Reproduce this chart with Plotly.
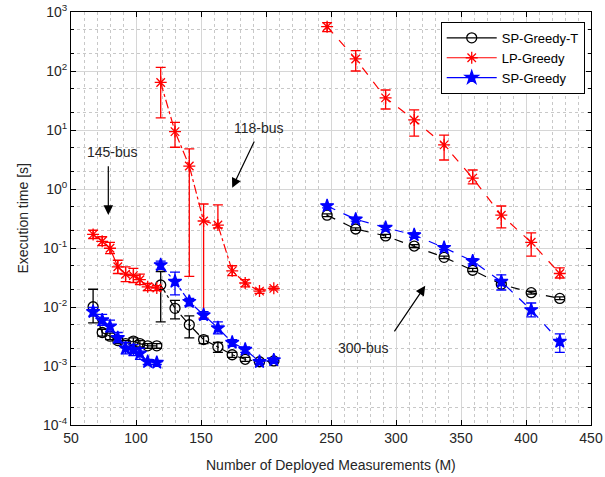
import numpy as np
import plotly.graph_objects as go

# ---------------- data ----------------
m_145 = [67, 74, 80, 86, 92, 98, 103, 109, 116]
m_118 = [119, 130, 141, 152, 163, 174, 184, 195, 206]
m_300 = [247, 269, 292, 314, 337, 359, 381, 404, 426]

# SP-Greedy-T
spt_145 = [0.0101, 0.0037, 0.0032, 0.0027, 0.0024, 0.00265, 0.0024, 0.0022, 0.0022]
spt_145_hi = [0.02, 0.0042, 0.0036, 0.003, 0.0027, 0.003, 0.0027, 0.0024, 0.0024]
spt_145_lo = [0.0054, 0.0032, 0.0028, 0.0024, 0.0021, 0.0023, 0.0021, 0.002, 0.002]
spt_118 = [0.0236, 0.0095, 0.005, 0.0028, 0.0021, 0.00155, 0.0013, 0.00118, 0.00122]
spt_118_hi = [0.04, 0.013, 0.0071, 0.0032, 0.0025, 0.0017, 0.0014, 0.00125, 0.0013]
spt_118_lo = [0.0056, 0.0063, 0.003, 0.0024, 0.0017, 0.0014, 0.0012, 0.0011, 0.00115]
spt_300 = [0.36, 0.21, 0.16, 0.108, 0.0695, 0.042, 0.0243, 0.0175, 0.014]
spt_300_hi = [0.38, 0.22, 0.17, 0.114, 0.073, 0.045, 0.026, 0.0185, 0.0148]
spt_300_lo = [0.34, 0.2, 0.15, 0.102, 0.066, 0.04, 0.023, 0.0165, 0.0133]

# LP-Greedy
lp_145 = [0.17, 0.13, 0.099, 0.048, 0.036, 0.034, 0.029, 0.022, 0.021]
lp_145_hi = [0.2, 0.155, 0.125, 0.062, 0.048, 0.045, 0.036, 0.025, 0.023]
lp_145_lo = [0.145, 0.11, 0.08, 0.037, 0.027, 0.026, 0.024, 0.019, 0.019]
lp_118 = [64, 9.4, 2.45, 0.287, 0.245, 0.041, 0.0255, 0.0186, 0.0207]
lp_118_hi = [115, 13.5, 4.8, 0.557, 0.54, 0.05, 0.029, 0.02, 0.022]
lp_118_lo = [16, 5.1, 0.033, 0.0065, 0.22, 0.034, 0.022, 0.017, 0.0195]
lp_300 = [564, 160, 35, 14.8, 5.6, 1.53, 0.36, 0.125, 0.037]
lp_300_hi = [660, 221, 47.6, 21.9, 8.2, 2.1, 0.515, 0.18, 0.046]
lp_300_lo = [464, 100, 22.7, 7.9, 3.1, 1.22, 0.22, 0.073, 0.031]

# SP-Greedy
sp_145 = [0.0083, 0.006, 0.0047, 0.003, 0.002, 0.00187, 0.00164, 0.00118, 0.00114]
sp_145_hi = [0.0098, 0.0075, 0.006, 0.0037, 0.0025, 0.0023, 0.002, 0.0013, 0.00122]
sp_145_lo = [0.007, 0.0049, 0.0038, 0.0025, 0.0016, 0.0015, 0.0013, 0.00106, 0.00106]
sp_118 = [0.0515, 0.027, 0.0123, 0.0073, 0.0044, 0.0025, 0.0019, 0.00118, 0.00126]
sp_118_hi = [0.06, 0.039, 0.014, 0.0083, 0.0056, 0.0028, 0.0021, 0.00125, 0.00135]
sp_118_lo = [0.0435, 0.016, 0.0105, 0.0062, 0.0035, 0.0022, 0.0017, 0.0011, 0.00118]
sp_300 = [0.515, 0.306, 0.221, 0.166, 0.101, 0.06, 0.027, 0.0089, 0.0026]
sp_300_hi = [0.55, 0.33, 0.235, 0.18, 0.108, 0.066, 0.035, 0.0117, 0.0035]
sp_300_lo = [0.48, 0.285, 0.205, 0.152, 0.094, 0.054, 0.0194, 0.0068, 0.0017]

x_ticks = [50, 100, 150, 200, 250, 300, 350, 400, 450]
y_tickvals = [1e-4, 1e-3, 1e-2, 1e-1, 1e0, 1e1, 1e2, 1e3]
y_ticktext = ["10<sup>-4</sup>", "10<sup>-3</sup>", "10<sup>-2</sup>", "10<sup>-1</sup>",
              "10<sup>0</sup>", "10<sup>1</sup>", "10<sup>2</sup>", "10<sup>3</sup>"]

FONT = "Liberation Sans, Arial, Helvetica, sans-serif"

fig = go.Figure()

series = [
    ("SP-Greedy-T", "black", "circle-open", 10,
     [(m_145, spt_145, spt_145_hi, spt_145_lo, "solid"),
      (m_118, spt_118, spt_118_hi, spt_118_lo, "dashdot"),
      (m_300, spt_300, spt_300_hi, spt_300_lo, "dash")]),
    ("LP-Greedy", "red", "asterisk-open", 10,
     [(m_145, lp_145, lp_145_hi, lp_145_lo, "solid"),
      (m_118, lp_118, lp_118_hi, lp_118_lo, "dashdot"),
      (m_300, lp_300, lp_300_hi, lp_300_lo, "dash")]),
    ("SP-Greedy", "blue", "star", 10,
     [(m_145, sp_145, sp_145_hi, sp_145_lo, "solid"),
      (m_118, sp_118, sp_118_hi, sp_118_lo, "dashdot"),
      (m_300, sp_300, sp_300_hi, sp_300_lo, "dash")]),
]

for name, color, sym, size, parts in series:
    for i, (mx, v, hi, lo, dash) in enumerate(parts):
        v_a = np.array(v); hi_a = np.array(hi); lo_a = np.array(lo)
        fig.add_trace(go.Scatter(
            x=mx, y=v, name=name, mode="lines+markers",
            showlegend=(i == 0), legendgroup=name,
            line=dict(color=color, width=1.2, dash=dash),
            marker=dict(symbol=sym, size=size, color=color,
                        line=dict(color=color, width=1.3)),
            error_y=dict(type="data", symmetric=False,
                         array=hi_a - v_a, arrayminus=v_a - lo_a,
                         color=color, thickness=1.3, width=5),
        ))

axis_common = dict(
    showline=True, linecolor="black", linewidth=1, mirror="ticks",
    ticks="inside", ticklen=5, tickcolor="black",
    showgrid=True, gridcolor="#d6d6d6", gridwidth=1,
    tickfont=dict(family=FONT, size=14, color="#262626"),
    zeroline=False, automargin=False,
)

fig.update_xaxes(
    **axis_common, range=[50, 450.0001], tickvals=x_ticks,
    minor=dict(dtick=10, showgrid=True, gridcolor="#c8c8c8", griddash="dot",
               ticks="", gridwidth=1),
)
fig.update_yaxes(
    **axis_common, type="log", range=[-4.00001, 3.00001],
    tickvals=y_tickvals, ticktext=y_ticktext,
    minor=dict(showgrid=True, gridcolor="#c8c8c8", griddash="dot",
               ticks="inside", ticklen=3, tickcolor="black", gridwidth=1),
)

# axis titles as annotations for exact placement
fig.add_annotation(x=0.5, y=0, xref="paper", yref="paper", yshift=-40,
                   text="Number of Deployed Measurements (M)", showarrow=False,
                   xanchor="center", yanchor="middle",
                   font=dict(family=FONT, size=14, color="#262626"))
fig.add_annotation(x=0, y=0.5, xref="paper", yref="paper", xshift=-49,
                   text="Execution time [s]", showarrow=False, textangle=-90,
                   xanchor="center", yanchor="middle",
                   font=dict(family=FONT, size=14, color="#262626"))

arrow_kw = dict(xref="x", yref="y", axref="x", ayref="y", showarrow=True,
                arrowhead=2, arrowsize=1.6, arrowwidth=1.2, arrowcolor="black", text="")
fig.add_annotation(x=78.7, y=-0.44, ax=78.7, ay=0.41, **arrow_kw)
fig.add_annotation(x=174, y=0.02, ax=191.5, ay=0.83, **arrow_kw)
fig.add_annotation(x=322.5, y=-1.64, ax=298, ay=-2.44, **arrow_kw)

lbl = dict(xref="x", yref="y", showarrow=False,
           font=dict(family=FONT, size=14, color="#262626"))
fig.add_annotation(x=81.8, y=0.63, text="145-bus", **lbl)
fig.add_annotation(x=194.5, y=1.03, text="118-bus", **lbl)
fig.add_annotation(x=275, y=-2.70, text="300-bus", **lbl)

fig.update_layout(
    width=605, height=477,
    margin=dict(l=71, r=14, t=12, b=52),
    paper_bgcolor="white", plot_bgcolor="white",
    font=dict(family=FONT, size=14, color="#262626"),
    legend=dict(x=0.711, y=0.976, xanchor="left", yanchor="top",
                bgcolor="white", bordercolor="black", borderwidth=1,
                font=dict(family=FONT, size=13, color="black"),
                tracegroupgap=0, itemwidth=50),
)

# remove the default page margin so the 605x477 figure fills the window exactly
fig.write_html("out.html", config={"displayModeBar": False},
               post_script="document.body.style.margin='0';document.body.style.overflow='hidden';")
